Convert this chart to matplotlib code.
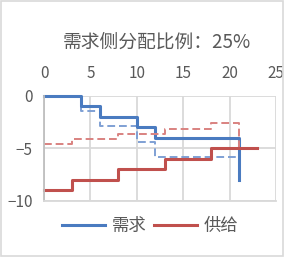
import matplotlib
matplotlib.use("Agg")
from matplotlib import pyplot as plt
from matplotlib.patches import Rectangle

plt.rcParams['font.family'] = ['Noto Sans CJK SC', 'DejaVu Sans']

title = "需求侧分配比例：25%"
labels = ["需求", "供给"]

# 需求 (solid) and shifted demand (dashed)
demand_x = [0, 4, 6, 10, 12, 21]
demand_y = [0, -1, -2, -3, -4, -8]
demand2_x = [0, 4, 6, 10, 12, 21]
demand2_y = [0, -1.45, -2.9, -4.4, -5.85, -8]

# 供给 (solid) and shifted supply (dashed)
supply_x = [0, 3, 8, 13, 18, 23]
supply_y = [-9, -8, -7, -6, -5, -5]
supply2_x = [0, 3, 8, 13, 18, 21]
supply2_y = [-4.6, -4.1, -3.6, -3.1, -2.6, -5]

blue = '#4a7bc0'
red = '#c0504d'
grey_txt = '#595959'

fig = plt.figure(figsize=(2.86, 2.58), dpi=100)
fig.add_artist(Rectangle((0.002, 0.006), 0.987, 0.99, transform=fig.transFigure,
                         fill=False, edgecolor='#d9d9d9', linewidth=1.2))
ax = fig.add_axes([0.154, 0.221, 0.811, 0.407])

ax.step(demand2_x, demand2_y, where='post', color='#7fa0d4', lw=1.4,
        ls=(0, (4, 2)), clip_on=False)
ax.step(demand_x, demand_y, where='post', color=blue, lw=2.2,
        clip_on=False, label=labels[0])
ax.step(supply2_x, supply2_y, where='post', color='#d98280', lw=1.4,
        ls=(0, (4, 2)), clip_on=False)
ax.step(supply_x, supply_y, where='post', color=red, lw=2.2,
        clip_on=False, label=labels[1])

ax.set_xlim(0, 25)
ax.set_ylim(-10, 0)
ax.set_xticks([0, 5, 10, 15, 20, 25])
ax.set_yticks([0, -5, -10])
ax.xaxis.tick_top()
ax.tick_params(length=0, labelsize=11, colors=grey_txt)
ax.tick_params(axis='x', pad=10)
ax.tick_params(axis='y', pad=8)
ax.grid(True, color='#d9d9d9', lw=1.3)
ax.set_axisbelow(True)
for s in ['top', 'right']:
    ax.spines[s].set_visible(False)
ax.spines['left'].set_color('#bfbfbf')
ax.spines['bottom'].set_color('#d9d9d9')
ax.spines['left'].set_linewidth(1.3)
ax.spines['bottom'].set_linewidth(1.3)

fig.text(0.548, 0.835, title, ha='center', va='center', fontsize=13.5, color=grey_txt)

fig.legend(loc='center', bbox_to_anchor=(0.525, 0.124), ncol=2, frameon=False,
           fontsize=12.5, labelcolor=grey_txt, handlelength=2.5, handletextpad=0.4,
           columnspacing=0.4)

fig.savefig('out.png', dpi=100)
